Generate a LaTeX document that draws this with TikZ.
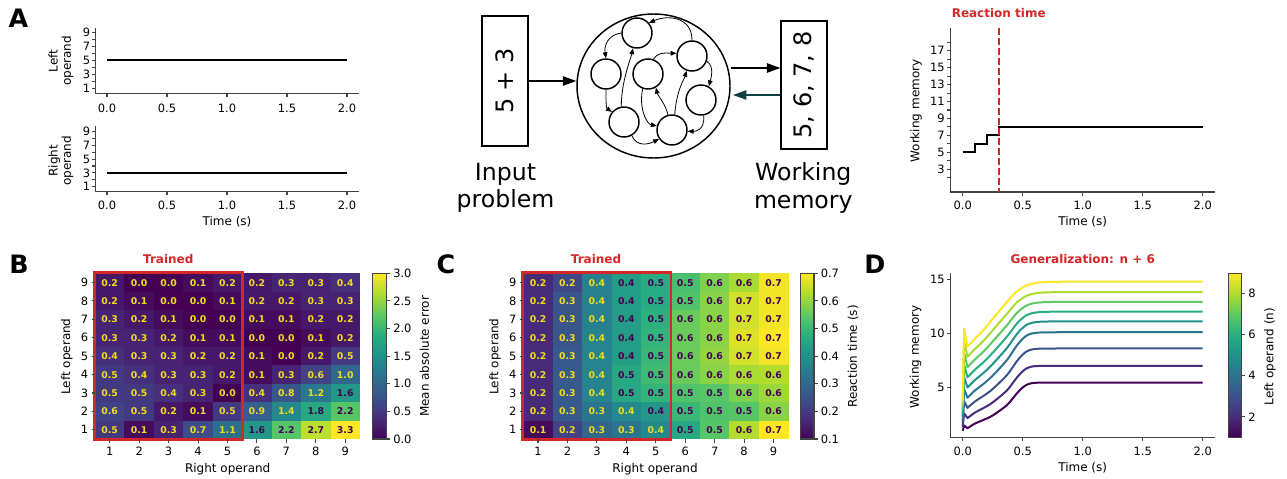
\documentclass[tikz,border=0pt]{standalone}
\usepackage{fontspec}
\setmainfont{DejaVu Sans}
\usetikzlibrary{arrows.meta,shapes.geometric}
\definecolor{vir0}{HTML}{440154}
\definecolor{vir1}{HTML}{472D7B}
\definecolor{vir2}{HTML}{3B528B}
\definecolor{vir3}{HTML}{2C728E}
\definecolor{vir4}{HTML}{21918C}
\definecolor{vir5}{HTML}{28AE80}
\definecolor{vir6}{HTML}{5EC962}
\definecolor{vir7}{HTML}{ADDC30}
\definecolor{vir8}{HTML}{FDE725}
\definecolor{txty}{HTML}{F2DC1E}
\definecolor{tred}{HTML}{D62728}
\definecolor{spinec}{HTML}{444444}
\definecolor{tealarr}{RGB}{16,64,64}
\pgfkeys{/pgf/number format/assume math mode=true}
\newcommand\virset[1]{%
  \pgfmathsetmacro\hmT{min(max(#1,0),1)*8}%
  \pgfmathtruncatemacro\hmI{min(int(\hmT),7)}%
  \pgfmathtruncatemacro\hmF{(\hmT-\hmI)*100}%
  \pgfmathtruncatemacro\hmJ{\hmI+1}%
  \colorlet{cellc}{vir\hmJ!\hmF!vir\hmI}}
\begin{document}
\begin{tikzpicture}[x=0.75pt,y=-0.75pt,
  spine/.style={draw=spinec, line width=0.8pt},
  tkm/.style={draw=spinec, line width=0.8pt},
  tklab/.style={font=\fontsize{8.6}{10}\selectfont, inner sep=0pt},
  axlab/.style={font=\fontsize{9}{10}\selectfont, inner sep=0pt},
  ttl/.style={font=\fontsize{9}{11}\selectfont\bfseries, text=tred, inner sep=0pt},
  panel/.style={font=\fontsize{19}{22}\selectfont\bfseries, inner sep=0pt},
  cellnum/.style={font=\fontsize{7}{8}\selectfont\bfseries, inner sep=0pt},
  dline/.style={line width=1.5pt},
  bigarr/.style={-{Triangle[length=10pt,width=7pt]}, line width=1.1pt},
  smarr/.style={-{Triangle[length=4.5pt,width=3.5pt]}, line width=0.6pt},
  neuron/.style={circle, draw, line width=1.1pt, minimum size=22.5pt, inner sep=0pt},
  bigtxt/.style={font=\fontsize{17.7}{20.5}\selectfont, align=center, inner sep=0pt},
  boxtxt/.style={font=\fontsize{18}{20}\selectfont, rotate=90, inner sep=0pt},
  cbar/.style={draw=spinec, line width=0.8pt},
  trainbox/.style={draw=tred, line width=2.2pt}
]
\useasboundingbox (0,0) rectangle (1287,478);
\fill[white] (0,0) rectangle (1287,478);

% ---------------- panel letters
\node[panel] (pA) at (18.5,18) {A};
\node[panel] (pB) at (19,264) {B};
\node[panel] (pC) at (446,264) {C};
\node[panel] (pD) at (875,264) {D};

% ---------------- A: left operand
\draw[spine] (95.7,27.7) -- (95.7,93.3) -- (359,93.3);
\foreach \yy in {1,...,9}{\draw[tkm] (92.2,{88.3-(\yy-1)*6.94}) -- ++(3.5,0);}
\foreach \yy in {1,3,5,7,9}{\node[tklab,anchor=east] (la\yy) at (90.5,{88.3-(\yy-1)*6.94}) {\yy};}
\foreach \tt/\ll [count=\ii] in {0/0.0,0.5/0.5,1/1.0,1.5/1.5,2/2.0}{
  \draw[tkm] ({107+120*\tt},93.3) -- ++(0,3.5);
  \node[tklab] (lx\ii) at ({107+120*\tt},108.5) {\ll};}
\draw[dline] (107,60.5) -- (347,60.5);
\node[axlab, rotate=90, align=center] (ylL) at (61,61) {Left\\operand};

% ---------------- A: right operand
\draw[spine] (95.7,126) -- (95.7,191.7) -- (359,191.7);
\foreach \yy in {1,...,9}{\draw[tkm] (92.2,{186.7-(\yy-1)*6.9}) -- ++(3.5,0);}
\foreach \yy in {1,3,5,7,9}{\node[tklab,anchor=east] (ra\yy) at (90.5,{186.7-(\yy-1)*6.9}) {\yy};}
\foreach \tt/\ll [count=\ii] in {0/0.0,0.5/0.5,1/1.0,1.5/1.5,2/2.0}{
  \draw[tkm] ({107+120*\tt},191.7) -- ++(0,3.5);
  \node[tklab] (rx\ii) at ({107+120*\tt},205.5) {\ll};}
\draw[dline] (107,172.9) -- (347,172.9);
\node[axlab, rotate=90, align=center] (ylR) at (61,160.8) {Right\\operand};
\node[axlab] (xlR) at (227,222) {Time (s)};

% ---------------- A: network diagram
\node[draw, line width=1.1pt, minimum width=34.5pt, minimum height=97.5pt, inner sep=0pt] (inbox) at (505,81) {};
\node[boxtxt] (intxt) at (inbox.center) {5 + 3};
\node[draw, ellipse, line width=1.1pt, minimum width=114.75pt, minimum height=108pt, inner sep=0pt] (net) at (653.5,86) {};
\node[draw, line width=1.1pt, minimum width=34.5pt, minimum height=96pt, inner sep=0pt] (wm) at (804,85) {};
\node[boxtxt] (wmtxt) at (wm.center) {5, 6, 7, 8};
\node[neuron] (n1) at (637,33) {};
\node[neuron] (n2) at (606,74) {};
\node[neuron] (n3) at (648,74) {};
\node[neuron] (n4) at (692,56) {};
\node[neuron] (n5) at (701,100) {};
\node[neuron] (n6) at (624,122) {};
\node[neuron] (n7) at (672,130) {};
\draw[smarr] (n4.north) .. controls +(0,-24) and +(18,-8) .. (n1.40);
\draw[smarr] (n1.west) .. controls +(-14,2) and +(-2,-12) .. (n2.north);
\draw[smarr] (n2.south) .. controls +(0,12) and +(-6,-4) .. (n6.140);
\draw[smarr] (n6.100) .. controls +(0,-25) and +(-2,10) .. (n1.-105);
\draw[smarr] (n6.-60) .. controls +(5,12) and +(-10,5) .. (n7.215);
\draw[smarr] (n3.250) .. controls +(-4,20) and +(-10,-2) .. (n7.165);
\draw[smarr] (n7.105) .. controls +(-2,-10) and +(2,8) .. (n3.-60);
\draw[smarr] (n7.80) .. controls +(2,-25) and +(-3,10) .. (n4.-110);
\draw[smarr] (n3.70) .. controls +(5,-8) and +(-8,0) .. (n4.170);
\draw[smarr] (n4.-20) .. controls +(8,5) and +(2,-8) .. (n5.60);
\draw[smarr] (n5.-80) .. controls +(1,15) and +(8,0) .. (n7.-5);
\draw[bigarr] (inbox.east) -- (inbox.east -| net.west);
\coordinate (o1) at (731,68);
\coordinate (o2) at (733,95);
\draw[bigarr] (o1) -- (o1 -| wm.west);
\draw[bigarr, draw=tealarr, fill=tealarr] (o2 -| wm.west) -- (o2);
\node[bigtxt] (inlab) at (505.5,188) {Input\\problem};
\node[bigtxt] (wmlab) at (803.3,188) {Working\\memory};

% ---------------- A: reaction time plot
\draw[spine] (950.7,28) -- (950.7,192) -- (1215,192);
\foreach \yy in {2,...,18}{\draw[tkm] (947.2,{194.7-8.47*\yy}) -- ++(3.5,0);}
\foreach \yy in {3,5,...,17}{\node[tklab,anchor=east] (wy\yy) at (945,{194.7-8.47*\yy}) {\yy};}
\foreach \tt/\ll [count=\ii] in {0/0.0,0.5/0.5,1/1.0,1.5/1.5,2/2.0}{
  \draw[tkm] ({962.7+120*\tt},192) -- ++(0,3.5);
  \node[tklab] (wx\ii) at ({962.7+120*\tt},205) {\ll};}
\draw[dline] (962.7,152.35) -- (974.7,152.35) -- (974.7,143.9) -- (986.7,143.9) -- (986.7,135.4) -- (998.7,135.4) -- (998.7,127) -- (1202.7,127);
\draw[tred, line width=1.5pt, dash pattern=on 5pt off 2.5pt] (998.7,28) -- (998.7,192);
\node[ttl] (rt) at (998.7,12.8) {Reaction time};
\node[axlab, rotate=90] (wmy) at (916,111) {Working memory};
\node[axlab] (wmx) at (1082.7,222) {Time (s)};

% ---------------- B heatmap
\foreach \hr/\vals in {9/{0.2,0.0,0.0,0.1,0.2,0.2,0.3,0.3,0.4},
                       8/{0.2,0.1,0.0,0.0,0.1,0.2,0.2,0.3,0.3},
                       7/{0.3,0.2,0.1,0.0,0.0,0.1,0.1,0.2,0.2},
                       6/{0.3,0.3,0.2,0.1,0.1,0.0,0.0,0.1,0.2},
                       5/{0.4,0.3,0.3,0.2,0.2,0.1,0.0,0.2,0.5},
                       4/{0.5,0.4,0.3,0.3,0.2,0.1,0.3,0.6,1.0},
                       3/{0.5,0.5,0.4,0.3,0.0,0.4,0.8,1.2,1.6},
                       2/{0.6,0.5,0.2,0.1,0.5,0.9,1.4,1.8,2.2},
                       1/{0.5,0.1,0.3,0.7,1.1,1.6,2.2,2.7,3.3}}{
  \foreach \hv [count=\hc] in \vals {
    \virset{\hv/3}
    \pgfmathsetmacro\xa{95+(\hc-1)*29.44}
    \pgfmathsetmacro\ya{273.3+(9-\hr)*18.41}
    \pgfmathtruncatemacro\dk{\hv>=1.5}
    \fill[cellc] (\xa,\ya) rectangle ++(29.7,18.7);
    \ifnum\dk=1 \def\tcol{vir0}\else\def\tcol{txty}\fi
    \node[cellnum,text=\tcol] (b\hr\hc) at (\xa+14.72,\ya+9.3) {\hv};
  }}
\draw[trainbox] (94.5,272.6) rectangle (242.7,439.2);
\foreach \yy in {1,...,9}{
  \draw[tkm] (91.5,{273.3+(9.5-\yy)*18.41}) -- ++(3.5,0);
  \node[tklab,anchor=east] (by\yy) at (88.5,{273.3+(9.5-\yy)*18.41}) {\yy};
  \draw[tkm] ({95+(\yy-0.5)*29.44},439) -- ++(0,3.5);
  \node[tklab] (bx\yy) at ({95+(\yy-0.5)*29.44},451.7) {\yy};}
\node[ttl] (btt) at (168.3,258.7) {Trained};
\node[axlab] (bxl) at (227.7,469) {Right operand};
\node[axlab, rotate=90] (byl) at (66.7,356.5) {Left operand};
% colorbar B
\foreach \ii [evaluate=\ii as \jj using int(\ii+1)] in {0,...,7}{
  \shade[bottom color=vir\ii, top color=vir\jj] (372.7,{439-\ii*20.7125}) rectangle (386.7,{439-(\ii+1)*20.7125});}
\draw[cbar] (372.7,273.3) rectangle (386.7,439);
\foreach \cv [count=\ii] in {0.0,0.5,1.0,1.5,2.0,2.5,3.0}{
  \draw[tkm] (386.7,{439-\cv/3*165.7}) -- ++(3.5,0);
  \node[tklab,anchor=west] (bc\ii) at (393,{439-\cv/3*165.7}) {\cv};}
\node[axlab, rotate=90] (bcl) at (424.5,356.5) {Mean absolute error};

% ---------------- C heatmap
\foreach \hr/\vals in {9/{0.17,0.23,0.36,0.43,0.47,0.52,0.58,0.62,0.69},
                       8/{0.17,0.26,0.36,0.43,0.47,0.53,0.59,0.66,0.69},
                       7/{0.17,0.26,0.36,0.43,0.48,0.56,0.59,0.66,0.69},
                       6/{0.17,0.26,0.37,0.43,0.49,0.56,0.59,0.67,0.70},
                       5/{0.17,0.27,0.37,0.43,0.50,0.56,0.60,0.66,0.69},
                       4/{0.17,0.27,0.37,0.46,0.51,0.56,0.59,0.62,0.63},
                       3/{0.17,0.27,0.37,0.46,0.49,0.53,0.54,0.58,0.61},
                       2/{0.17,0.27,0.33,0.38,0.42,0.50,0.53,0.54,0.59},
                       1/{0.12,0.22,0.30,0.33,0.38,0.46,0.54,0.63,0.70}}{
  \foreach \hv [count=\hc] in \vals {
    \virset{(\hv-0.1)/0.6}
    \pgfmathsetmacro\xa{523.3+(\hc-1)*29.44}
    \pgfmathsetmacro\ya{273.3+(9-\hr)*18.41}
    \pgfmathtruncatemacro\dk{\hv>=0.4}
    \fill[cellc] (\xa,\ya) rectangle ++(29.7,18.7);
    \ifnum\dk=1 \def\tcol{vir0}\else\def\tcol{txty}\fi
    \node[cellnum,text=\tcol] (c\hr\hc) at (\xa+14.72,\ya+9.3) {\pgfmathprintnumber[fixed,zerofill,precision=1]{\hv}};
  }}
\draw[trainbox] (522.6,272.6) rectangle (671,439.2);
\foreach \yy in {1,...,9}{
  \draw[tkm] (519.8,{273.3+(9.5-\yy)*18.41}) -- ++(3.5,0);
  \node[tklab,anchor=east] (cy\yy) at (516.8,{273.3+(9.5-\yy)*18.41}) {\yy};
  \draw[tkm] ({523.3+(\yy-0.5)*29.44},439) -- ++(0,3.5);
  \node[tklab] (cx\yy) at ({523.3+(\yy-0.5)*29.44},451.7) {\yy};}
\node[ttl] (ctt) at (596,258.7) {Trained};
\node[axlab] (cxl) at (655,469) {Right operand};
\node[axlab, rotate=90] (cyl) at (495,356.5) {Left operand};
% colorbar C
\foreach \ii [evaluate=\ii as \jj using int(\ii+1)] in {0,...,7}{
  \shade[bottom color=vir\ii, top color=vir\jj] (800.7,{439-\ii*20.7125}) rectangle (814,{439-(\ii+1)*20.7125});}
\draw[cbar] (800.7,273.3) rectangle (814,439);
\foreach \cv [count=\ii] in {0.1,0.2,0.3,0.4,0.5,0.6,0.7}{
  \draw[tkm] (814,{439-(\cv-0.1)/0.6*165.7}) -- ++(3.5,0);
  \node[tklab,anchor=west] (cc\ii) at (820.5,{439-(\cv-0.1)/0.6*165.7}) {\cv};}
\node[axlab, rotate=90] (ccl) at (853,356.5) {Reaction time (s)};

% ---------------- D generalization
\draw[spine] (950.7,273.3) -- (950.7,437.3) -- (1215,437.3);
\foreach \yy in {5,10,15}{
  \draw[tkm] (947.2,{441.7-10.84*\yy}) -- ++(3.5,0);
  \node[tklab,anchor=east] (dy\yy) at (945,{441.7-10.84*\yy}) {\yy};}
\foreach \tt/\ll [count=\ii] in {0/0.0,0.5/0.5,1/1.0,1.5/1.5,2/2.0}{
  \draw[tkm] ({962.7+120*\tt},437.3) -- ++(0,3.5);
  \node[tklab] (dx\ii) at ({962.7+120*\tt},451.7) {\ll};}
\foreach \nn/\Fv [count=\kk from 0] in {1/5.45,2/7.0,3/8.6,4/10.1,5/11.1,6/12.0,7/12.9,8/13.8,9/14.76}{
  \pgfmathsetmacro\vone{1.24+0.94*(\nn-1)}
  \pgfmathsetmacro\fr{(\nn-1)/8}
  \pgfmathsetmacro\sy{441.7-10.84*(1+0.34*(\nn-1))}
  \pgfmathsetmacro\pky{441.7-10.84*(\vone+0.18*(\nn-1)+0.25)}
  \pgfmathsetmacro\fy{441.7-10.84*\Fv}
  \gdef\ptlist{}
  \foreach \tt/\pp/\qq in {0.04/0/0,0.10/0.10/0.12,0.17/0.18/0.25,0.23/0.25/0.385,0.30/0.37/0.54,0.37/0.51/0.69,0.41/0.63/0.775,0.45/0.76/0.85,0.49/0.87/0.90,0.53/0.95/0.94,0.58/0.99/0.97,0.65/1/0.99,0.75/1/0.998,0.90/1/1}{
    \pgfmathsetmacro\px{962.7+120*\tt}
    \pgfmathsetmacro\py{441.7-10.84*(\vone+(\Fv-\vone)*(\pp+(\qq-\pp)*\fr))}
    \xdef\ptlist{\ptlist (\px,\py)}
  }
  \edef\dcurve{\noexpand\draw[dline, draw=vir\kk, line join=round] (962.7,\sy) -- (964.1,\pky) -- plot[smooth, tension=0.5] coordinates {\ptlist} -- (1202.7,\fy);}
  \dcurve
}
\node[ttl] (dtt) at (1082.7,258.7) {Generalization: n + 6};
\node[axlab, rotate=90] (dyl) at (915.5,357) {Working memory};
\node[axlab] (dxl) at (1082.7,467.5) {Time (s)};
% colorbar D
\foreach \ii [evaluate=\ii as \jj using int(\ii+1)] in {0,...,7}{
  \shade[bottom color=vir\ii, top color=vir\jj] (1228.3,{437.3-\ii*20.5}) rectangle (1241.7,{437.3-(\ii+1)*20.5});}
\draw[cbar] (1228.3,273.3) rectangle (1241.7,437.3);
\foreach \cv in {2,4,6,8}{
  \draw[tkm] (1241.7,{437.3-(\cv-1)/8*164}) -- ++(3.5,0);
  \node[tklab,anchor=west] (dc\cv) at (1248,{437.3-(\cv-1)/8*164}) {\cv};}
\node[axlab, rotate=90] (dcl) at (1270,356.5) {Left operand (n)};
\end{tikzpicture}
\end{document}
